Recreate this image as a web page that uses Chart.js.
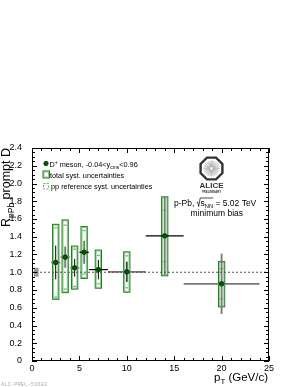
<!DOCTYPE html>
<html>
<head>
<meta charset="utf-8">
<script src="https://cdn.jsdelivr.net/npm/chart.js@4.4.1/dist/chart.umd.min.js"></script>
<style>
  html, body { margin: 0; padding: 0; background: #fff; }
  #wrap { width: 299px; height: 387px; }
</style>
</head>
<body>
<div id="wrap"><canvas id="chart"></canvas></div>
<script>
// pT bins (GeV/c)
const ptCenter = [2.5, 3.5, 4.5, 5.5, 7, 10, 14, 20];
const ptLow = [2, 3, 4, 5, 6, 8, 12, 16];
const ptHigh = [3, 4, 5, 6, 8, 12, 16, 24];
// R_pPb of prompt D+ and uncertainties
const rpPb = [1.11, 1.17, 1.05, 1.225, 1.03, 1.005, 1.41, 0.87];
const statErr = [0.19, 0.12, 0.10, 0.13, 0.11, 0.115, 0.44, 0.34];
const systUp = [0.43, 0.42, 0.245, 0.29, 0.22, 0.225, 0.44, 0.25];
const systDown = [0.415, 0.40, 0.24, 0.295, 0.21, 0.23, 0.45, 0.26];
const ppRefSyst = [0.39, 0.36, 0.21, 0.245, 0.16, 0.18, 0.29, 0.17];
const normUnc = 0.05;
// axis ticks
const yTickStep = 0.2;
const xTickStep = 5;

const FONT = "'Liberation Sans', Arial, sans-serif";
const darkGreen = "#1f7a1f";
const lightGreen = "#8fd18f";
// per-point look of the stat bars (thin black vs. anti-aliased grey)
const vBarColor = ["#000", "#777", "#000", "#777", "#000", "#444", "#777", "#777"];
const hBarColor = ["#888", "#888", "#888", "#000", "#000", "#777", "#000", "#777"];

// draw text with sub/superscripts, returns width
function rich(ctx, x, y, parts, size, measureOnly) {
  let cx = x;
  parts.forEach(([t, kind]) => {
    let fs = size, dy = 0;
    if (kind === "sub") { fs = size * 0.68; dy = size * 0.28; }
    if (kind === "sup") { fs = size * 0.68; dy = -size * 0.38; }
    ctx.font = fs + "px " + FONT;
    if (!measureOnly) ctx.fillText(t, cx, y + dy);
    cx += ctx.measureText(t).width;
  });
  return cx - x;
}

const decor = {
  id: "decor",
  beforeDatasetsDraw(chart) {
    const ctx = chart.ctx;
    const xs = chart.scales.x, ys = chart.scales.y;
    ctx.save();

    // normalisation uncertainty box at unity
    ctx.fillStyle = "#999";
    const nx0 = xs.getPixelForValue(0.2), nx1 = xs.getPixelForValue(0.7);
    const ny0 = ys.getPixelForValue(1 + normUnc), ny1 = ys.getPixelForValue(1 - normUnc);
    ctx.fillRect(nx0, ny0, nx1 - nx0, ny1 - ny0);

    ptCenter.forEach((pt, i) => {
      const px = xs.getPixelForValue(pt);
      const hw = xs.getPixelForValue(pt + 0.33) - px;
      // total syst box
      const top = ys.getPixelForValue(rpPb[i] + systUp[i]);
      const bot = ys.getPixelForValue(rpPb[i] - systDown[i]);
      ctx.lineWidth = 1;
      ctx.strokeStyle = lightGreen;
      ctx.strokeRect(px - hw + 1, top + 1, 2 * hw - 2, bot - top - 2);
      ctx.strokeStyle = darkGreen;
      ctx.strokeRect(px - hw, top, 2 * hw, bot - top);
      // pp reference syst marks
      ctx.strokeStyle = "#6fb86f";
      ctx.lineWidth = 1.3;
      [rpPb[i] + ppRefSyst[i], rpPb[i] - ppRefSyst[i]].forEach(v => {
        const py = ys.getPixelForValue(v);
        ctx.beginPath();
        ctx.moveTo(px - 1.5, py);
        ctx.lineTo(px + 1.5, py);
        ctx.stroke();
      });
      // stat errors
      const sy0 = ys.getPixelForValue(rpPb[i] + statErr[i]);
      const sy1 = ys.getPixelForValue(rpPb[i] - statErr[i]);
      ctx.strokeStyle = vBarColor[i];
      ctx.lineWidth = vBarColor[i] === "#000" ? 1 : 1.8;
      ctx.beginPath();
      ctx.moveTo(px, sy0);
      ctx.lineTo(px, sy1);
      ctx.stroke();
      const py = ys.getPixelForValue(rpPb[i]);
      ctx.strokeStyle = hBarColor[i];
      ctx.lineWidth = hBarColor[i] === "#000" ? 1.2 : 1.8;
      ctx.beginPath();
      ctx.moveTo(xs.getPixelForValue(ptLow[i]), py);
      ctx.lineTo(xs.getPixelForValue(ptHigh[i]), py);
      ctx.stroke();
    });
    ctx.restore();
  },
  afterDraw(chart) {
    const ctx = chart.ctx;
    const a = chart.chartArea;
    const xs = chart.scales.x, ys = chart.scales.y;
    ctx.save();

    // frame and inward ticks
    ctx.strokeStyle = "#000";
    ctx.lineWidth = 1;
    ctx.strokeRect(a.left + 0.5, a.top + 0.5, a.right - a.left - 1, a.bottom - a.top - 1);
    ctx.beginPath();
    for (let k = 0; k <= 48; k++) {
      const py = Math.round(ys.getPixelForValue(k * 0.05)) + 0.5;
      const len = k % 4 === 0 ? 5 : 3;
      ctx.moveTo(a.left, py); ctx.lineTo(a.left + len, py);
      ctx.moveTo(a.right, py); ctx.lineTo(a.right - len, py);
    }
    for (let k = 0; k <= 25; k++) {
      const px = Math.round(xs.getPixelForValue(k)) + 0.5;
      const len = k % 5 === 0 ? 5 : 3;
      ctx.moveTo(px, a.bottom); ctx.lineTo(px, a.bottom - len);
      ctx.moveTo(px, a.top); ctx.lineTo(px, a.top + len);
    }
    ctx.stroke();

    ctx.fillStyle = "#000";
    ctx.textBaseline = "alphabetic";

    // x tick labels from the scale's ticks
    ctx.textAlign = "center";
    ctx.font = "9px " + FONT;
    xs.ticks.forEach(t => {
      ctx.fillText(String(t.value), xs.getPixelForValue(t.value), a.bottom + 10);
    });
    ctx.textAlign = "left";

    // y title, rotated, ending at top of axis
    const yParts = [["R", "n"], ["pPb", "sub"], [" prompt D", "n"]];
    const yw = rich(ctx, 0, 0, yParts, 12.5, true);
    ctx.save();
    ctx.translate(10, a.top + yw);
    ctx.rotate(-Math.PI / 2);
    rich(ctx, 0, 0, yParts, 12.5);
    ctx.restore();

    // x title, right aligned
    const xParts = [["p", "n"], ["T", "sub"], [" (GeV/c)", "n"]];
    const xw = rich(ctx, 0, 0, xParts, 11.5, true);
    rich(ctx, a.right - xw - 1, 381, xParts, 11.5);

    // legend
    ctx.fillStyle = "#005a00";
    ctx.strokeStyle = "#003000";
    ctx.lineWidth = 0.8;
    ctx.beginPath();
    ctx.arc(46, 163.5, 2.2, 0, Math.PI * 2);
    ctx.fill(); ctx.stroke();
    ctx.fillStyle = "#000";
    rich(ctx, 49.5, 166.5, [["D", "n"], ["+", "sup"], [" meson, -0.04<y", "n"], ["cms", "sub"], ["<0.96", "n"]], 7.3);
    ctx.lineWidth = 1;
    ctx.strokeStyle = lightGreen;
    ctx.strokeRect(44, 172, 4.5, 5);
    ctx.strokeStyle = darkGreen;
    ctx.strokeRect(43, 171, 6.5, 7);
    rich(ctx, 50, 177.5, [["total syst. uncertainties", "n"]], 7.3);
    ctx.strokeStyle = "#5fae5f";
    ctx.setLineDash([2, 1.5]);
    ctx.strokeRect(43.5, 183.5, 5, 5.5);
    ctx.setLineDash([]);
    rich(ctx, 51, 189.3, [["pp reference syst. uncertainties", "n"]], 7.3);

    // ALICE logo
    const cx = 211.5, cy = 168.5, r = 11.8;
    ctx.strokeStyle = "#333";
    ctx.lineWidth = 2.4;
    ctx.beginPath();
    for (let k = 0; k < 8; k++) {
      const ang = Math.PI / 8 + k * Math.PI / 4;
      const X = cx + r * Math.cos(ang), Y = cy + r * Math.sin(ang);
      k === 0 ? ctx.moveTo(X, Y) : ctx.lineTo(X, Y);
    }
    ctx.closePath();
    ctx.stroke();
    ctx.strokeStyle = "#999";
    ctx.lineWidth = 0.6;
    ctx.beginPath();
    for (let k = 0; k < 28; k++) {
      const ang = k * Math.PI * 2 / 28;
      ctx.moveTo(cx + 1.5 * Math.cos(ang), cy + 1.5 * Math.sin(ang));
      ctx.lineTo(cx + 8 * Math.cos(ang), cy + 8 * Math.sin(ang));
    }
    ctx.stroke();
    ctx.fillStyle = "#333";
    ctx.textAlign = "center";
    ctx.font = "bold 8px " + FONT;
    ctx.fillText("ALICE", cx, 188.3, 26);
    ctx.font = "bold 4px " + FONT;
    ctx.fillText("PRELIMINARY", cx, 193.3, 19);

    // system label
    ctx.fillStyle = "#000";
    ctx.textAlign = "left";
    const sParts1 = [["p-Pb, ", "n"]];
    const sParts2 = [["s", "n"], ["NN", "sub"]];
    const sParts3 = [[" = 5.02 TeV", "n"]];
    const fs = 8.5;
    const w1 = rich(ctx, 0, 0, sParts1, fs, true);
    const w2 = rich(ctx, 0, 0, sParts2, fs, true);
    const sqW = 3.5;
    let sx = 174;
    const by = 205.5;
    rich(ctx, sx, by, sParts1, fs);
    sx += w1;
    // sqrt sign
    ctx.strokeStyle = "#000";
    ctx.lineWidth = 0.7;
    ctx.beginPath();
    ctx.moveTo(sx, by - 3);
    ctx.lineTo(sx + 1, by - 3.5);
    ctx.lineTo(sx + 2, by + 1);
    ctx.lineTo(sx + sqW, by - 7.5);
    ctx.lineTo(sx + sqW + w2 + 0.5, by - 7.5);
    ctx.stroke();
    rich(ctx, sx + sqW + 0.3, by, sParts2, fs);
    rich(ctx, sx + sqW + w2 + 0.3, by, sParts3, fs);
    ctx.font = fs + "px " + FONT;
    ctx.textAlign = "center";
    ctx.fillText("minimum bias", 216.8, 216.3);

    // figure id
    ctx.textAlign = "left";
    ctx.fillStyle = "#b0b0b0";
    ctx.font = "5.5px 'Liberation Mono', monospace";
    ctx.fillText("ALI-PREL-53602", 1, 385.5, 49);
    ctx.restore();
  }
};

const chart = new Chart(document.getElementById("chart"), {
  type: "scatter",
  data: {
    datasets: [
      {
        data: ptCenter.map((x, i) => ({ x: x, y: rpPb[i] })),
        pointStyle: "circle",
        pointRadius: 2.3,
        pointBackgroundColor: "#005a00",
        pointBorderColor: "#003000",
        pointBorderWidth: 0.8,
        order: 0
      },
      {
        data: [{ x: 0, y: 1 }, { x: 25, y: 1 }],
        showLine: true,
        borderColor: "#555",
        borderWidth: 1,
        borderDash: [2, 2],
        pointRadius: 0,
        order: 1
      }
    ]
  },
  options: {
    responsive: true,
    maintainAspectRatio: false,
    animation: false,
    layout: { padding: { top: 148, right: 30, left: 0, bottom: 0 } },
    plugins: { legend: { display: false }, tooltip: { enabled: false } },
    scales: {
      x: {
        type: "linear",
        min: 0,
        max: 25,
        afterFit(s) { s.height = 26; },
        border: { display: false },
        grid: { display: false },
        ticks: { display: false, stepSize: xTickStep, autoSkip: false }
      },
      y: {
        type: "linear",
        min: 0,
        max: 2.4,
        afterFit(s) { s.width = 32; },
        border: { display: false },
        grid: { display: false },
        ticks: { stepSize: yTickStep, autoSkip: false, padding: 2, color: "#000", font: { family: FONT, size: 9 } }
      }
    }
  },
  plugins: [decor]
});
</script>
</body>
</html>
